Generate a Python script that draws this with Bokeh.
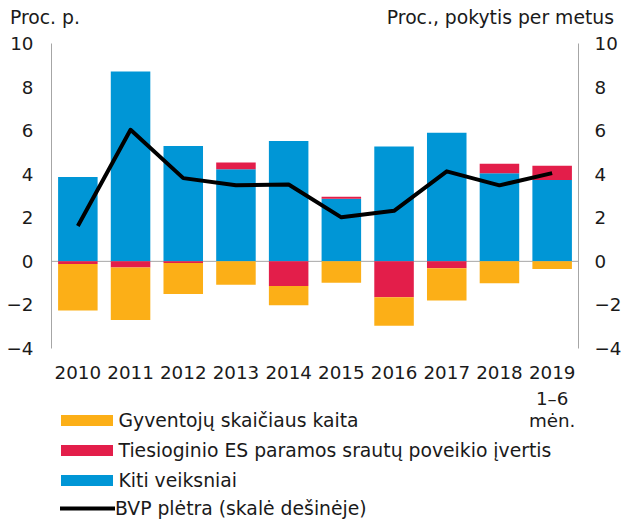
from bokeh.plotting import figure
from bokeh.layouts import column
from bokeh.models import (FactorRange, Range1d, LinearAxis, FixedTicker, Span,
                          Legend, LegendItem, ColumnDataSource, Div)
from bokeh.core.properties import value
from bokeh.embed import file_html
from bokeh.resources import INLINE

# ---- data ----
years = ["2010", "2011", "2012", "2013", "2014", "2015", "2016", "2017", "2018", "2019"]
last_year_sublabel = ["1–6", "mėn."]
kiti = [3.87, 8.72, 5.29, 4.23, 5.53, 2.87, 5.27, 5.90, 4.05, 3.73]
es_parama = [-0.12, -0.28, -0.08, 0.31, -1.13, 0.10, -1.65, -0.32, 0.43, 0.66]
gyventoju = [-2.14, -2.41, -1.42, -1.07, -0.89, -0.98, -1.30, -1.48, -1.01, -0.35]
bvp = [1.62, 6.04, 3.82, 3.49, 3.53, 2.02, 2.32, 4.13, 3.49, 4.05]
y_ticks = [-4, -2, 0, 2, 4, 6, 8, 10]
left_title = "Proc. p."
right_title = "Proc., pokytis per metus"
names = ["Gyventojų skaičiaus kaita",
         "Tiesioginio ES paramos srautų poveikio įvertis",
         "Kiti veiksniai",
         "BVP plėtra (skalė dešinėje)"]

C_OR = "#FCAF17"
C_RED = "#E31E4A"
C_BLUE = "#0096D6"
C_AX = "#a6a6a6"
FONT = "DejaVu Sans"
FS_NUM = "18.3px"
FS_TXT = "18.8px"
TXT = "#1a1a1a"

red_bottom = [k if e >= 0 else 0 for k, e in zip(kiti, es_parama)]
red_top = [k + e if e >= 0 else e for k, e in zip(kiti, es_parama)]
or_top = [min(e, 0) for e in es_parama]
or_bottom = [min(e, 0) + g for e, g in zip(es_parama, gyventoju)]

src = ColumnDataSource(dict(x=years, kiti=kiti, zero=[0] * len(years),
                            rb=red_bottom, rt=red_top, ob=or_bottom, ot=or_top,
                            bvp=bvp))

# ---- top strip with the two axis titles ----
TOP_H = 30
top = Div(text=(
    f'<div style="position:relative;width:624px;height:{TOP_H}px;'
    f'font-family:\'{FONT}\';font-size:{FS_TXT};color:{TXT};line-height:22px;">'
    f'<span style="position:absolute;left:10px;top:7px;white-space:nowrap;">{left_title}</span>'
    f'<span style="position:absolute;right:10px;top:7px;white-space:nowrap;">{right_title}</span>'
    f'</div>'), width=624, height=TOP_H, margin=0)

# ---- main chart ----
MAIN_H = 356
p = figure(x_range=FactorRange(factors=years, range_padding=0),
           y_range=Range1d(-4, 10), width=624, height=MAIN_H,
           output_backend="svg", toolbar_location=None,
           min_border_left=51, min_border_right=43, min_border_top=43 - TOP_H,
           min_border_bottom=MAIN_H - (348 - TOP_H), outline_line_color=None)
p.extra_y_ranges = {"r": Range1d(-4, 10)}
p.xgrid.visible = False
p.ygrid.visible = False

p.add_layout(Span(location=0, dimension="width", line_color=C_AX,
                  line_width=1, level="underlay"))

W = 0.75
p.vbar(x="x", bottom="zero", top="kiti", width=W, source=src,
       fill_color=C_BLUE, line_color=None)
p.vbar(x="x", bottom="rb", top="rt", width=W, source=src,
       fill_color=C_RED, line_color=None)
p.vbar(x="x", bottom="ob", top="ot", width=W, source=src,
       fill_color=C_OR, line_color=None)
p.line(x="x", y="bvp", source=src, y_range_name="r",
       line_color="black", line_width=4, line_join="round")

overrides = {t: ("−" + str(abs(t)) if t < 0 else str(t)) for t in y_ticks}

def no_ticks(ax):
    ax.major_tick_line_color = None
    ax.minor_tick_line_color = None
    ax.major_tick_out = 0
    ax.major_tick_in = 0
    ax.minor_tick_out = 0
    ax.minor_tick_in = 0

def style_y(ax, standoff):
    ax.ticker = FixedTicker(ticks=y_ticks)
    ax.major_label_overrides = overrides
    ax.axis_line_color = C_AX
    ax.axis_line_width = 1
    no_ticks(ax)
    ax.major_label_text_font = FONT
    ax.major_label_text_font_size = FS_NUM
    ax.major_label_text_color = TXT
    ax.major_label_standoff = standoff

style_y(p.yaxis[0], 18)
rax = LinearAxis(y_range_name="r")
style_y(rax, 16)
p.add_layout(rax, "right")

xa = p.xaxis[0]
xa.axis_line_color = None
no_ticks(xa)
xa.major_label_text_font = FONT
xa.major_label_text_font_size = FS_NUM
xa.major_label_text_color = TXT
xa.major_label_standoff = 17

# ---- bottom strip: sub-label of last year + legend ----
BOT_H = 519 - TOP_H - MAIN_H
BOT_TOP = TOP_H + MAIN_H  # page y of the strip top
p2 = figure(width=624, height=BOT_H, x_range=p.x_range,
            y_range=Range1d(0, BOT_H), output_backend="svg",
            toolbar_location=None, min_border_left=51, min_border_right=43,
            min_border_top=0, min_border_bottom=0, outline_line_color=None)
p2.extra_y_ranges = {"hide": Range1d(1000, 2000)}
p2.axis.visible = False
p2.grid.visible = False
p2.text(x=[years[-1]] * 2,
        y=[BOT_H - (398 - BOT_TOP), BOT_H - (420 - BOT_TOP)],
        text=last_year_sublabel, text_font=value(FONT), text_font_size=FS_NUM,
        text_color=TXT, text_align="center", text_baseline="middle")

# legend proxies: same data, mapped to an out-of-view range so only the keys show
d_or = p2.vbar(x="x", bottom="ob", top="ot", width=W, source=src,
               y_range_name="hide", fill_color=C_OR, line_color=None)
d_red = p2.vbar(x="x", bottom="rb", top="rt", width=W, source=src,
                y_range_name="hide", fill_color=C_RED, line_color=None)
d_blue = p2.vbar(x="x", bottom="zero", top="kiti", width=W, source=src,
                 y_range_name="hide", fill_color=C_BLUE, line_color=None)
d_line = p2.line(x="x", y="bvp", source=src, y_range_name="hide",
                 line_color="black", line_width=4, line_cap="round")

leg_common = dict(orientation="vertical", label_height=21, padding=0, margin=0,
                  border_line_color=None, background_fill_alpha=0,
                  label_text_font=FONT, label_text_font_size=FS_TXT,
                  label_text_color=TXT)
leg1 = Legend(items=[LegendItem(label=names[0], renderers=[d_or]),
                     LegendItem(label=names[1], renderers=[d_red]),
                     LegendItem(label=names[2], renderers=[d_blue])],
              location=(2.5, 519 - 490.5), glyph_width=65, glyph_height=14,
              label_standoff=-5, spacing=9, **leg_common)
leg2 = Legend(items=[LegendItem(label=names[3], renderers=[d_line])],
              location=(9, 0.5), glyph_width=55, glyph_height=14,
              label_standoff=0, spacing=0, **leg_common)
p2.add_layout(leg1, "center")
p2.add_layout(leg2, "center")

layout = column(top, p, p2, spacing=0)
open("out.html", "w").write(file_html(layout, INLINE))
